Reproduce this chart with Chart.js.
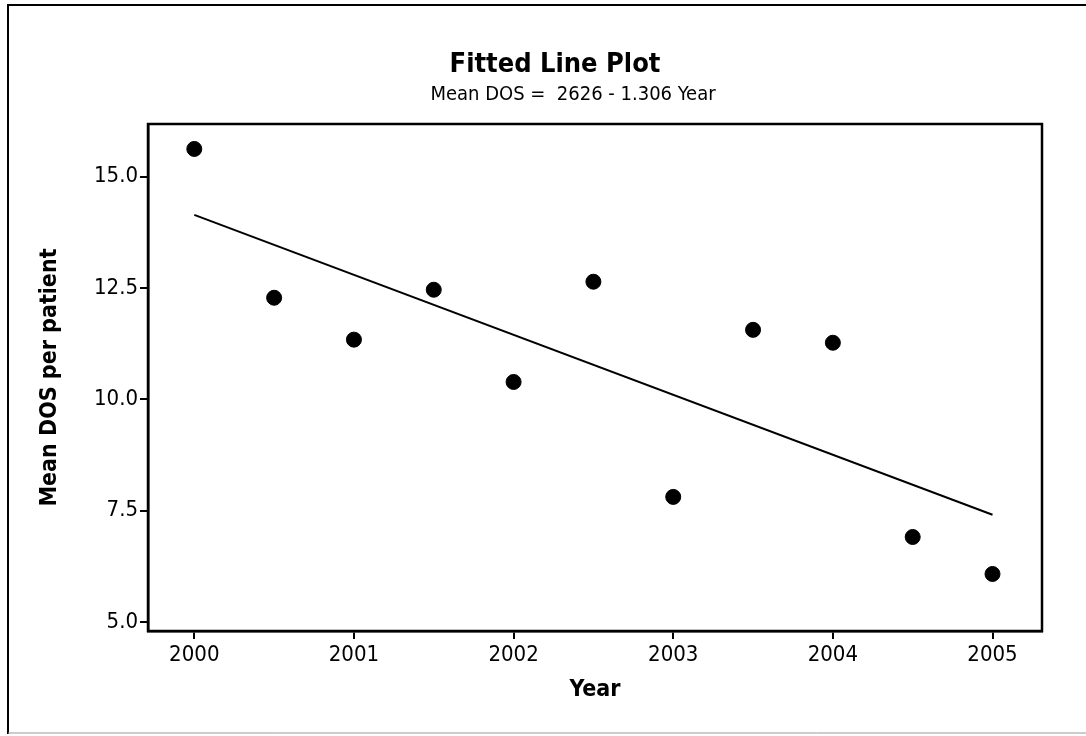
<!DOCTYPE html>
<html>
<head>
<meta charset="utf-8">
<script src="https://cdn.jsdelivr.net/npm/chart.js@4/dist/chart.umd.min.js"></script>
<style>
  body { margin: 0; background: #fff; }
  #wrap { width: 1086px; height: 736px; }
</style>
</head>
<body>
<div id="wrap"><canvas id="fitplot" width="1086" height="736"></canvas></div>
<script>
// values
const years = [2000, 2000.5, 2001, 2001.5, 2002, 2002.5, 2003, 2003.5, 2004, 2004.5, 2005];
const meanDos = [15.62, 12.28, 11.34, 12.46, 10.39, 12.64, 7.81, 11.56, 11.27, 6.91, 6.08];
// fitted line end points
const fitYears = [2000, 2005];
const fitDos = [14.14, 7.41];
const xTicks = [2000, 2001, 2002, 2003, 2004, 2005];
const yTicks = [5.0, 7.5, 10.0, 12.5, 15.0];

const fontName = "'DejaVu Sans Condensed', 'DejaVu Sans', Verdana, sans-serif";

// title lines + page frame + box round the plot area
const framePlugin = {
    id: 'framePlugin',
    beforeDraw(chart) {
        const ctx = chart.ctx;
        ctx.save();
        ctx.fillStyle = '#fff';
        ctx.fillRect(0, 0, chart.width, chart.height);
        ctx.restore();
    },
    afterDraw(chart) {
        const ctx = chart.ctx;
        const a = chart.chartArea;
        ctx.save();
        ctx.strokeStyle = '#000';
        ctx.lineWidth = 2.5;
        ctx.strokeRect(a.left, a.top, a.right - a.left, a.bottom - a.top);

        // outer frame of the graph window
        ctx.lineWidth = 2;
        ctx.beginPath();
        ctx.moveTo(8, 734);
        ctx.lineTo(8, 5);
        ctx.lineTo(1086, 5);
        ctx.stroke();
        ctx.strokeStyle = '#999';
        ctx.lineWidth = 1;
        ctx.beginPath();
        ctx.moveTo(8, 733);
        ctx.lineTo(1086, 733);
        ctx.stroke();

        ctx.fillStyle = '#000';
        ctx.textAlign = 'center';
        ctx.textBaseline = 'alphabetic';
        ctx.font = "bold 27px " + fontName;
        ctx.fillText('Fitted Line Plot', 555, 72);
        ctx.font = "20px " + fontName;
        ctx.fillText('Mean DOS =  2626 - 1.306 Year', 573, 100);
        ctx.restore();
    }
};

const points = years.map((y, i) => ({ x: y, y: meanDos[i] }));
const fitLine = fitYears.map((y, i) => ({ x: y, y: fitDos[i] }));

const config = {
    type: 'scatter',
    data: {
        datasets: [
            {
                label: 'Mean DOS',
                data: points,
                backgroundColor: '#000',
                borderColor: '#000',
                pointRadius: 7.5,
                pointHoverRadius: 7.5
            },
            {
                label: 'Fit',
                type: 'line',
                data: fitLine,
                borderColor: '#000',
                borderWidth: 2,
                pointRadius: 0,
                fill: false
            }
        ]
    },
    options: {
        responsive: false,
        animation: false,
        events: [],
        layout: {
            padding: { top: 124, left: 30, right: 44, bottom: 20 }
        },
        plugins: {
            legend: { display: false },
            tooltip: { enabled: false },
            title: { display: false }
        },
        scales: {
            x: {
                type: 'linear',
                min: 1999.71,
                max: 2005.31,
                afterBuildTicks: (scale) => {
                    scale.ticks = xTicks.map(v => ({ value: v }));
                },
                afterFit: (scale) => {
                    scale.height = 736 - 20 - 631;
                },
                border: { display: true, color: '#000', width: 2.5 },
                grid: {
                    drawOnChartArea: false,
                    drawTicks: true,
                    tickLength: 8,
                    color: '#000',
                    lineWidth: 2
                },
                ticks: {
                    color: '#000',
                    padding: 3,
                    maxRotation: 0,
                    font: { family: fontName, size: 22 },
                    callback: (v) => String(v)
                },
                title: {
                    display: true,
                    text: 'Year',
                    color: '#000',
                    padding: { top: 0, bottom: 12 },
                    font: { family: fontName, size: 23, weight: 'bold' }
                }
            },
            y: {
                type: 'linear',
                min: 4.8,
                max: 16.18,
                afterBuildTicks: (scale) => {
                    scale.ticks = yTicks.map(v => ({ value: v }));
                },
                afterFit: (scale) => {
                    scale.width = 148 - 30;
                },
                border: { display: true, color: '#000', width: 2.5 },
                grid: {
                    drawOnChartArea: false,
                    drawTicks: true,
                    tickLength: 8,
                    color: '#000',
                    lineWidth: 2
                },
                ticks: {
                    color: '#000',
                    padding: 2,
                    font: { family: fontName, size: 22 },
                    callback: (v) => v.toFixed(1)
                },
                title: {
                    display: true,
                    text: 'Mean DOS per patient',
                    color: '#000',
                    padding: { top: 6, bottom: 0 },
                    font: { family: fontName, size: 23, weight: 'bold' }
                }
            }
        }
    },
    plugins: [framePlugin]
};

new Chart(document.getElementById('fitplot'), config);
</script>
</body>
</html>
